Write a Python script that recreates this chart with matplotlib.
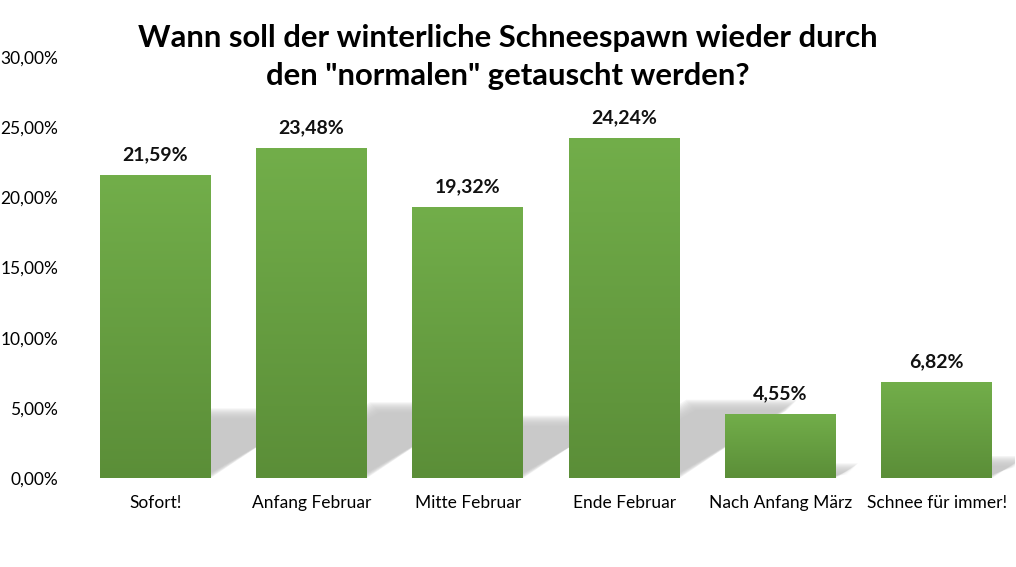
import numpy as np
import matplotlib
matplotlib.use("Agg")
import matplotlib.pyplot as plt
from matplotlib.patches import Polygon

categories = ["Sofort!", "Anfang Februar", "Mitte Februar", "Ende Februar",
              "Nach Anfang März", "Schnee für immer!"]
values = [21.59, 23.48, 19.32, 24.24, 4.55, 6.82]
yticks = [0, 5, 10, 15, 20, 25, 30]
title = 'Wann soll der winterliche Schneespawn wieder durch\nden "normalen" getauscht werden?'

plt.rcParams['font.family'] = ['Lato', 'DejaVu Sans']

fig = plt.figure(figsize=(10.16, 5.67), dpi=100)
ax = fig.add_axes([77 / 1016, 1 - 478 / 567, (1015 - 77) / 1016, (478 - 57) / 567])

width = 0.71
x = np.arange(len(categories))

# perspective shadows, soft edges by stacking shrinking polygons
for xi, v in zip(x, values):
    h = v * 0.23
    dx = v * 0.031
    n = 12
    for k in range(n):
        sx = k * 0.006
        sy = k * 0.07
        poly = Polygon([(xi - width / 2 + sx, 0), (xi + width / 2 - sx, 0),
                        (xi + width / 2 + dx - sx, h - sy),
                        (xi - width / 2 + dx + sx, h - sy)],
                       closed=True, facecolor="#c4c4c4", edgecolor="none",
                       alpha=0.16, zorder=1)
        ax.add_patch(poly)

bars = ax.bar(x, values, width=width, color="none", edgecolor="none", zorder=2)
grad = np.linspace(1, 0, 256).reshape(-1, 1)
cmap = matplotlib.colors.LinearSegmentedColormap.from_list("g", ["#5b8e38", "#72ae4a"])
for b in bars:
    x0, y0 = b.get_x(), b.get_y()
    im = ax.imshow(grad[::-1], extent=[x0, x0 + b.get_width(), y0, y0 + b.get_height()],
                   origin="lower", aspect="auto", cmap=cmap, zorder=3)
    im.set_clip_path(b)

for xi, v in zip(x, values):
    ax.text(xi, v + 0.85, f"{v:.2f}%".replace(".", ","), ha="center", va="bottom",
            fontsize=14, fontweight="bold", color="#111111")

ax.set_xlim(-0.5, len(categories) - 0.5)
ax.set_ylim(0, 30)
ax.set_yticks(yticks)
ax.set_yticklabels([f"{t:.2f}%".replace(".", ",") for t in yticks], fontsize=12.5)
ax.set_xticks(x)
ax.set_xticklabels(categories, fontsize=12.5)
ax.tick_params(axis="x", length=0, pad=12)
ax.tick_params(axis="y", length=0, pad=13.5)
for sp in ax.spines.values():
    sp.set_visible(False)

fig.text(0.5, 1 - 57 / 567, title, ha="center", va="center", fontsize=22.3,
         fontweight="bold", linespacing=1.45)

fig.savefig("out.png", dpi=100)
